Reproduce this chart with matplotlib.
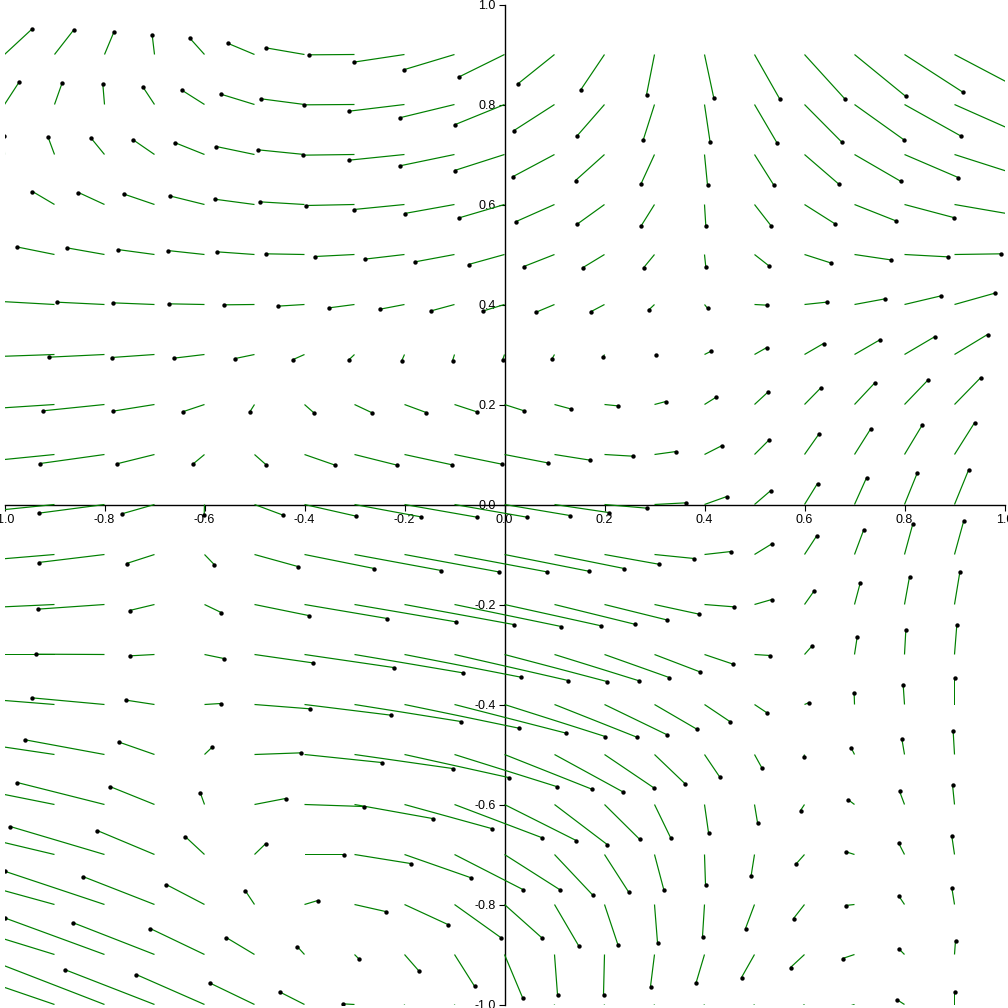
import numpy as np
import matplotlib
matplotlib.use('Agg')
import matplotlib.pyplot as plt

plt.rcParams['font.family'] = ['Liberation Sans', 'DejaVu Sans']
plt.rcParams['axes.unicode_minus'] = False

# arrow tails: columns left to right, rows top to bottom
x_grid = [-1.0, -0.9, -0.8, -0.7, -0.6, -0.5, -0.4, -0.3, -0.2, -0.1,
          0.0, 0.1, 0.2, 0.3, 0.4, 0.5, 0.6, 0.7, 0.8, 0.9]
y_grid = [0.9, 0.8, 0.7, 0.6, 0.5, 0.4, 0.3, 0.2, 0.1, 0.0,
          -0.1, -0.2, -0.3, -0.4, -0.5, -0.6, -0.7, -0.8, -0.9, -1.0]

# vector components (1500 units = 1 axis unit), one list per row
u_rows = [
    [81, 57, 28, -7, -44, -81, -116, -138, -153, -153, -138, -111, -72, -24, 28, 76, 120, 153, 175, 190],
    [43, 23, -5, -35, -68, -101, -130, -153, -166, -165, -150, -123, -83, -34, 17, 68, 112, 147, 170, 185],
    [-2, -20, -41, -64, -90, -115, -139, -156, -166, -164, -150, -124, -87, -40, 9, 58, 102, 138, 161, 175],
    [-55, -66, -78, -91, -105, -120, -134, -146, -152, -150, -136, -115, -82, -40, 4, 49, 90, 124, 147, 162],
    [-115, -114, -113, -111, -111, -112, -115, -118, -120, -118, -108, -92, -66, -33, 4, 42, 78, 108, 129, 139],
    [-170, -160, -143, -125, -106, -91, -81, -76, -73, -70, -66, -55, -40, -18, 9, 37, 66, 92, 110, 121],
    [-215, -200, -166, -129, -92, -58, -34, -18, -8, -6, -6, -8, -4, 5, 20, 37, 57, 76, 90, 99],
    [-300, -245, -185, -125, -66, -14, 27, 53, 65, 67, 59, 48, 39, 34, 35, 40, 50, 60, 71, 79],
    [-350, -270, -193, -113, -35, 35, 92, 128, 143, 142, 129, 107, 84, 65, 51, 44, 43, 48, 53, 60],
    [-390, -295, -197, -98, -1, 86, 155, 199, 217, 217, 196, 162, 127, 94, 67, 49, 39, 36, 38, 42],
    [-400, -310, -198, -84, 29, 130, 209, 260, 282, 277, 252, 209, 162, 119, 80, 52, 36, 28, 25, 28],
    [-440, -325, -201, -75, 50, 162, 248, 304, 327, 320, 290, 240, 186, 134, 88, 52, 29, 17, 15, 16],
    [-460, -340, -207, -73, 58, 174, 267, 325, 349, 341, 307, 254, 194, 136, 86, 47, 22, 8, 4, 7],
    [-480, -350, -218, -85, 49, 167, 259, 319, 343, 335, 302, 247, 186, 127, 76, 36, 12, -1, -4, 0],
    [-500, -370, -238, -106, 23, 140, 231, 294, 312, 306, 262, 205, 148, 92, 46, 22, -2, -10, -8, -4],
    [-520, -390, -262, -134, -13, 93, 177, 234, 261, 261, 215, 158, 105, 48, 12, 9, -12, -20, -15, -6],
    [-520, -400, -283, -172, -58, 34, 118, 168, 200, 205, 165, 115, 72, 28, 3, -10, -25, -25, -18, -8],
    [-500, -400, -300, -215, -115, -28, 40, 93, 130, 140, 111, 72, 40, 9, -6, -27, -33, -27, -18, -8],
    [-480, -390, -300, -246, -163, -85, -22, 12, 42, 60, 54, 9, -3, -12, -25, -39, -42, -36, -18, 3],
    [-460, -380, -310, -270, -205, -135, -75, -35, -5, 15, 0, -20, -35, -45, -52, -52, -48, -38, -22, 0],
]
v_rows = [
    [75, 73, 67, 59, 49, 34, 20, -1, -23, -46, -68, -89, -107, -121, -131, -134, -132, -125, -113, -100],
    [66, 65, 61, 53, 43, 31, 17, -1, -20, -40, -61, -79, -95, -107, -114, -116, -113, -105, -95, -82],
    [55, 54, 50, 44, 36, 24, 14, -2, -17, -34, -48, -66, -78, -87, -92, -92, -88, -80, -69, -56],
    [40, 39, 36, 31, 26, 16, 8, -3, -15, -27, -40, -51, -59, -64, -65, -63, -57, -49, -39, -28],
    [25, 23, 20, 15, 12, 8, 2, -6, -14, -22, -30, -36, -40, -40, -38, -33, -25, -16, -7, 2],
    [10, 9, 7, 5, 2, -1, -5, -10, -14, -19, -20, -23, -21, -17, -11, -2, 7, 17, 26, 34],
    [-7, -7, -8, -9, -11, -12, -15, -17, -18, -19, -17, -14, -8, 0, 10, 21, 33, 44, 53, 60],
    [-18, -16, -19, -20, -22, -22, -24, -25, -24, -22, -19, -13, -4, 9, 22, 37, 51, 64, 74, 81],
    [-28, -27, -27, -28, -29, -31, -32, -32, -31, -29, -25, -17, -5, 9, 26, 44, 61, 76, 88, 95],
    [-33, -30, -26, -28, -30, -32, -35, -37, -38, -38, -33, -24, -11, 5, 24, 42, 63, 80, 94, 103],
    [-30, -26, -24, -27, -30, -36, -42, -48, -52, -52, -50, -42, -29, -12, 9, 32, 55, 75, 92, 102],
    [-15, -15, -14, -18, -24, -33, -42, -52, -60, -66, -64, -59, -46, -29, -7, 15, 41, 64, 83, 97],
    [2, 0, 1, -4, -12, -25, -39, -55, -68, -78, -81, -79, -69, -52, -29, -3, 25, 52, 73, 89],
    [35, 28, 20, 13, 3, -13, -32, -51, -71, -86, -96, -98, -90, -74, -51, -24, 5, 34, 60, 79],
    [65, 55, 44, 37, 22, 5, -24, -42, -69, -96, -104, -112, -100, -88, -68, -40, -8, 20, 47, 70],
    [90, 78, 66, 54, 36, 18, -6, -42, -72, -99, -108, -120, -104, -99, -84, -54, -18, 15, 40, 60],
    [110, 95, 84, 72, 54, 33, 0, -27, -70, -105, -105, -122, -112, -106, -90, -63, -28, 8, 35, 55],
    [120, 110, 100, 84, 60, 42, 12, -21, -60, -100, -99, -123, -120, -114, -96, -72, -42, -3, 27, 50],
    [130, 120, 110, 96, 78, 51, 24, -12, -48, -95, -129, -120, -120, -96, -84, -69, -39, -12, 18, 42],
    [140, 130, 120, 105, 90, 65, 38, 2, -35, -80, -140, -120, -115, -100, -80, -60, -35, -12, 14, 38],
]
ticks = [-1.0, -0.8, -0.6, -0.4, -0.2, 0.0, 0.2, 0.4, 0.6, 0.8, 1.0]

SCALE = 1500

X, Y = np.meshgrid(x_grid, y_grid)
U = np.array(u_rows, dtype=float)
V = np.array(v_rows, dtype=float)

fig = plt.figure(figsize=(10.08, 10.08), dpi=100)
ax = fig.add_axes([4.5 / 1008, 3.5 / 1008, 1000 / 1008, 1000 / 1008])
ax.set_xlim(-1, 1)
ax.set_ylim(-1, 1)

ax.quiver(X, Y, U, V, angles='xy', scale_units='xy', scale=SCALE,
          color='green', width=0.0012, headwidth=0, headlength=0,
          headaxislength=0, minlength=0, zorder=2)
ax.scatter(X + U / SCALE, Y + V / SCALE, s=10, color='black',
           linewidths=0, zorder=3)

for side in ['top', 'right']:
    ax.spines[side].set_visible(False)
ax.spines['left'].set_position(('data', 0))
ax.spines['bottom'].set_position(('data', 0))
for side in ['left', 'bottom']:
    ax.spines[side].set_linewidth(1)
    ax.spines[side].set_zorder(1)

ax.set_xticks(ticks)
ax.set_yticks(ticks)
ax.set_xticklabels([f'{t:.1f}' for t in ticks])
ax.set_yticklabels([f'{t:.1f}' for t in ticks])
ax.tick_params(direction='out', length=4.5, width=0.8, labelsize=9, pad=2)

fig.savefig('out.png', dpi=100)
